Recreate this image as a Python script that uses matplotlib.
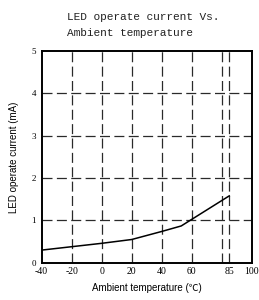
import matplotlib

matplotlib.use("Agg")
import matplotlib.pyplot as plt

# ── Data ──────────────────────────────────────────────────
temps = [-40, -20, 0, 20, 40, 53, 85]
current_ma = [0.30, 0.38, 0.46, 0.55, 0.74, 0.87, 1.58]

x_ticks = [-40, -20, 0, 20, 40, 60, 85, 100]
x_grid = [-20, 0, 20, 40, 60, 80, 85]
y_ticks = [0, 1, 2, 3, 4, 5]
y_grid = [1, 2, 3, 4]

title_lines = ["LED operate current Vs.", "Ambient temperature"]
x_label = "Ambient temperature (℃)"
y_label = "LED operate current (mA)"

# ── Figure ────────────────────────────────────────────────
fig = plt.figure(figsize=(2.59, 3.0), dpi=100)
ax = fig.add_axes([0.161, 0.124, 0.811, 0.706])

ax.set_xlim(-40, 100)
ax.set_ylim(0, 5)

grid_kw = dict(color="#2a2a2a", linewidth=0.9, linestyle=(0, (8, 3.5)), zorder=1)
for gx in x_grid:
    ax.axvline(gx, **grid_kw)
for gy in y_grid:
    ax.axhline(gy, **grid_kw)

ax.plot(temps, current_ma, color="black", linewidth=1.1, zorder=3)

for side in ax.spines.values():
    side.set_linewidth(1.4)
    side.set_color("black")

ax.set_xticks(x_ticks)
ax.set_yticks(y_ticks)
ax.set_xticklabels([str(t) for t in x_ticks], fontfamily="Liberation Serif", fontsize=7)
ax.set_yticklabels([str(t) for t in y_ticks], fontfamily="Liberation Serif", fontsize=6.5)
ax.tick_params(axis="x", length=0, pad=3)
ax.tick_params(axis="y", length=0, pad=4)

ax.set_xlabel(x_label, family=["Liberation Sans", "Noto Sans CJK SC"], fontsize=7, labelpad=5)
ax.set_ylabel(y_label, family=["Liberation Sans"], fontsize=7, labelpad=9)

fig.text(67 / 259, 1 - 17 / 300, title_lines[0], family="Liberation Mono",
         fontsize=8, ha="left", va="center", color="#222222")
fig.text(67 / 259, 1 - 33 / 300, title_lines[1], family="Liberation Mono",
         fontsize=8, ha="left", va="center", color="#222222")

fig.savefig("out.png", dpi=100)
plt.close(fig)
